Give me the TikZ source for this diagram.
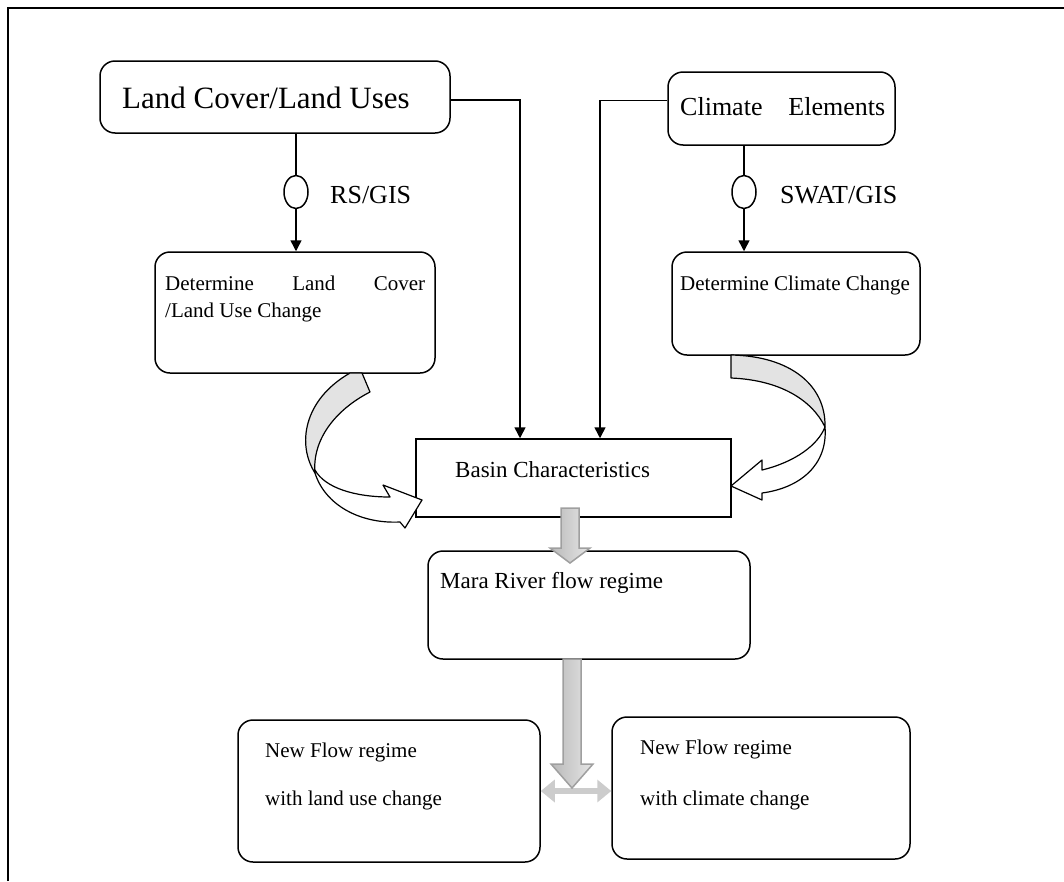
\documentclass[tikz,border=0pt]{standalone}
\usepackage{fontspec}
\setmainfont{Liberation Serif}
\usetikzlibrary{arrows.meta,shapes.geometric}
\tikzset{
  frame/.style={line width=1.5pt},
  rbox/.style={draw, line width=1.5pt, rounded corners=15pt, inner sep=0pt},
  sbox/.style={draw, line width=1.5pt, inner sep=0pt},
  txt/.style={inner sep=0pt, anchor=west, font=\fontsize{21}{27}\selectfont},
  midtxt/.style={inner sep=0pt, anchor=west, font=\fontsize{23}{28}\selectfont},
  bigtxt/.style={inner sep=0pt, anchor=west, font=\fontsize{31}{36}\selectfont},
  tooltxt/.style={inner sep=0pt, anchor=west, font=\fontsize{26}{30}\selectfont},
  feed/.style={line width=1.5pt, -{Triangle[length=11pt,width=11pt]}},
  plain/.style={line width=1.5pt},
  tool/.style={draw, line width=1.5pt, ellipse, minimum width=24pt, minimum height=33pt, inner sep=0pt},
  curvearr/.style={draw=black, line width=1.2pt, line join=round},
  flow/.style={draw=gray!75, line width=1.5pt, shading=axis, left color=gray!55, right color=gray!20},
}
\begin{document}
\begin{tikzpicture}[x=1pt,y=-1pt]
\useasboundingbox (0,0) rectangle (1064,881);
\draw[frame] (8,881) -- (8,8) -- (1064,8);

% input boxes
\node[rbox, minimum width=350pt, minimum height=72pt] (landuse) at (275,97) {};
\node[bigtxt] (landuset) at (122,98) {Land Cover/Land Uses};
\node[rbox, minimum width=227pt, minimum height=73pt] (climate) at (781.5,108.5) {};
\node[bigtxt, font=\fontsize{26}{30}\selectfont] (climatet) at (680,107) {\makebox[205pt][s]{Climate\hfill Elements}};

% tools
\node[tool] (rs) at (296,192) {};
\node[tooltxt] (rst) at (330,195) {RS/GIS};
\node[tool] (swat) at (744,192) {};
\node[tooltxt] (swatt) at (780,195) {SWAT/GIS};

% change boxes
\node[rbox, minimum width=280pt, minimum height=121pt] (lucc) at (295,312.5) {};
\node[txt, anchor=north west, align=left] (lucct) at (165,276) {\makebox[260pt][s]{Determine Land Cover}\\/Land Use Change};
\node[rbox, minimum width=248pt, minimum height=103pt] (cc) at (796,303.5) {};
\node[txt] (cct) at (680,285) {Determine Climate Change};

% basin and flow
\node[sbox, minimum width=315pt, minimum height=78pt] (basin) at (573.5,478) {};
\node[midtxt] (basint) at (455,470) {Basin Characteristics};
\node[rbox, minimum width=322pt, minimum height=108pt] (mara) at (589,605) {};
\node[midtxt] (marat) at (440,583) {Mara River flow regime};

% outcomes
\node[rbox, minimum width=302pt, minimum height=142pt] (newlu) at (389,791) {};
\node[txt] (newlut) at (265,752) {New Flow regime};
\node[txt] (newlub) at (265,800) {with land use change};
\node[rbox, minimum width=298pt, minimum height=142pt] (newcc) at (761,788) {};
\node[txt] (newcct) at (640,749) {New Flow regime};
\node[txt] (newccb) at (640,800) {with climate change};

% connectors
\draw[plain] (rs |- landuse.south) -- (rs.north);
\draw[feed] (rs.south) -- (rs |- lucc.north);
\draw[plain] (swat |- climate.south) -- (swat.north);
\draw[feed] (swat.south) -- (swat |- cc.north);
\draw[feed] ([yshift=-3pt]landuse.east) -| ([xshift=-53.5pt]basin.north);
\draw[feed] ([yshift=8pt]climate.west) -| ([xshift=26.5pt]basin.north);

% curved arrows
\draw[curvearr, fill=gray!22] (350,373) .. controls (303,400) and (297,445) .. (315,473)
  .. controls (312,440) and (335,410) .. (370,392) -- (362,373) -- cycle;
\draw[curvearr, fill=white] (315,470) .. controls (325,488) and (355,497) .. (390,497)
  -- (383,485) -- (422,500) -- (405,528) -- (400,522)
  .. controls (360,524) and (325,505) .. (315,473) -- cycle;
\draw[curvearr, fill=gray!22] (731,355) .. controls (790,356) and (826,385) .. (825,427)
  .. controls (812,400) and (780,380) .. (731,378) -- cycle;
\draw[curvearr, fill=white] (825,427) .. controls (828,465) and (800,488) .. (762,493)
  -- (762,500) -- (731,486) -- (762,460) -- (762,470)
  .. controls (795,462) and (818,445) .. (825,427) -- cycle;

% block arrows
\draw[flow] (561,508) -- (579,508) -- (579,548) -- (590,548) -- (570,563)
  -- (550,548) -- (561,548) -- cycle;
\draw[gray!40, line width=6pt, {Triangle[length=14pt,width=22pt]}-{Triangle[length=14pt,width=22pt]}]
  (newlu.east) -- (newlu.east -| newcc.west);
\draw[flow] (563,659) -- (581,659) -- (581,764) -- (593,764) -- (572,788)
  -- (551,764) -- (563,764) -- cycle;
\end{tikzpicture}
\end{document}
